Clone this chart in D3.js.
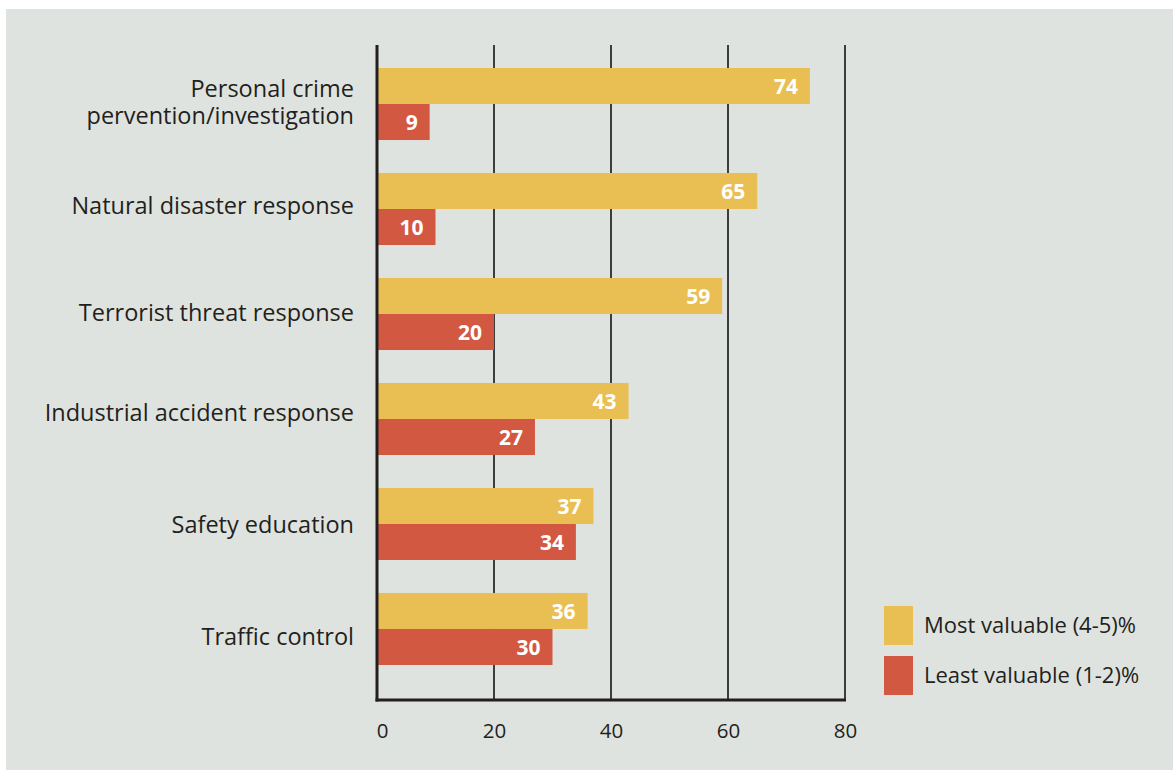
<!DOCTYPE html>
<html>
<head>
<meta charset="utf-8">
<script src="https://cdn.jsdelivr.net/npm/d3@7"></script>
<style>
  html, body { margin: 0; padding: 0; background: #ffffff; }
  svg { display: block; }
  text { font-family: "Open Sans", "Noto Sans", sans-serif; }
</style>
</head>
<body>
<svg id="chart" width="1173" height="770"></svg>
<script>
// Survey categories, top to bottom
const categories = [
  ["Personal crime", "pervention/investigation"],
  ["Natural disaster response"],
  ["Terrorist threat response"],
  ["Industrial accident response"],
  ["Safety education"],
  ["Traffic control"]
];
const mostValuable  = [74, 65, 59, 43, 37, 36];
const leastValuable = [9, 10, 20, 27, 34, 30];
const seriesNames = ["Most valuable (4-5)%", "Least valuable (1-2)%"];
const xTicks = [0, 20, 40, 60, 80];

// Layout: baseline shift of each category label from its band centre (px)
const labelBaseline = [6.5, 5, 7, 2, 9, 16];

const colors = ["#e9be52", "#d35842"];
const bg = "#dfe3df";
const ink = "#231f20";

const svg = d3.select("#chart");
svg.append("rect").attr("x", 6).attr("y", 9).attr("width", 1167).attr("height", 761).attr("fill", bg);

const x = d3.scaleLinear().domain([0, 80]).range([377, 845]);
const y = d3.scaleBand().domain(d3.range(categories.length)).range([68, 665]).paddingInner(0.314).paddingOuter(0);
const sub = d3.scaleBand().domain([0, 1]).range([0, y.bandwidth()]);

const plotTop = 45, plotBottom = 700;

// Vertical gridlines
svg.append("g").selectAll("line").data(xTicks.slice(1)).join("line")
  .attr("x1", d => x(d)).attr("x2", d => x(d))
  .attr("y1", plotTop).attr("y2", plotBottom)
  .attr("stroke", "#2b2b2b").attr("stroke-width", 1.8);

// Bars with value labels at their ends
const series = [mostValuable, leastValuable];
series.forEach((vals, s) => {
  const g = svg.append("g");
  g.selectAll("rect").data(vals).join("rect")
    .attr("x", x(0))
    .attr("y", (d, i) => y(i) + sub(s))
    .attr("width", d => x(d) - x(0))
    .attr("height", sub.bandwidth())
    .attr("fill", colors[s]);
  g.selectAll("text").data(vals).join("text")
    .attr("x", d => x(d) - 12)
    .attr("y", (d, i) => y(i) + sub(s) + sub.bandwidth() / 2)
    .attr("dy", "0.36em")
    .attr("text-anchor", "end")
    .attr("font-size", 21)
    .attr("font-weight", 700)
    .attr("fill", "#ffffff")
    .text(d => d);
});

// Axis frame: left spine and baseline
svg.append("line").attr("x1", x(0)).attr("x2", x(0)).attr("y1", plotTop).attr("y2", plotBottom + 1.5)
  .attr("stroke", ink).attr("stroke-width", 3);
svg.append("line").attr("x1", x(0) - 1.5).attr("x2", x(80) + 1).attr("y1", plotBottom).attr("y2", plotBottom)
  .attr("stroke", ink).attr("stroke-width", 3);

// Bottom tick labels
const xAxis = d3.axisBottom(x).tickValues(xTicks).tickSize(0).tickPadding(0);
const gx = svg.append("g").attr("transform", `translate(0,${plotBottom})`).call(xAxis);
gx.select(".domain").remove();
gx.selectAll("text")
  .attr("y", 38).attr("dy", null)
  .attr("font-size", 20.5).attr("fill", ink)
  .attr("font-family", "\"Open Sans\", sans-serif");
gx.selectAll(".tick").filter(d => d === 0).select("text").attr("x", 5);

// Category labels
const lab = svg.append("g").selectAll("text").data(categories).join("text")
  .attr("text-anchor", "end")
  .attr("font-size", 23.5)
  .attr("fill", ink)
  .attr("transform", (d, i) => `translate(354,${y(i) + y.bandwidth() / 2 + labelBaseline[i]})`);
lab.each(function(lines) {
  const t = d3.select(this);
  const lh = 27;
  const off = -(lines.length - 1) * lh / 2;
  lines.forEach((ln, k) => {
    t.append("tspan").attr("x", 0).attr("y", off + k * lh).text(ln);
  });
});

// Legend
const lg = svg.append("g").attr("transform", "translate(884,606)");
seriesNames.forEach((name, i) => {
  lg.append("rect").attr("x", 0).attr("y", i * 50).attr("width", 29).attr("height", 39).attr("fill", colors[i]);
  lg.append("text").attr("x", 40).attr("y", i * 50 + 19.5).attr("dy", "0.36em")
    .attr("font-size", 22).attr("fill", ink).text(name);
});
</script>
</body>
</html>
